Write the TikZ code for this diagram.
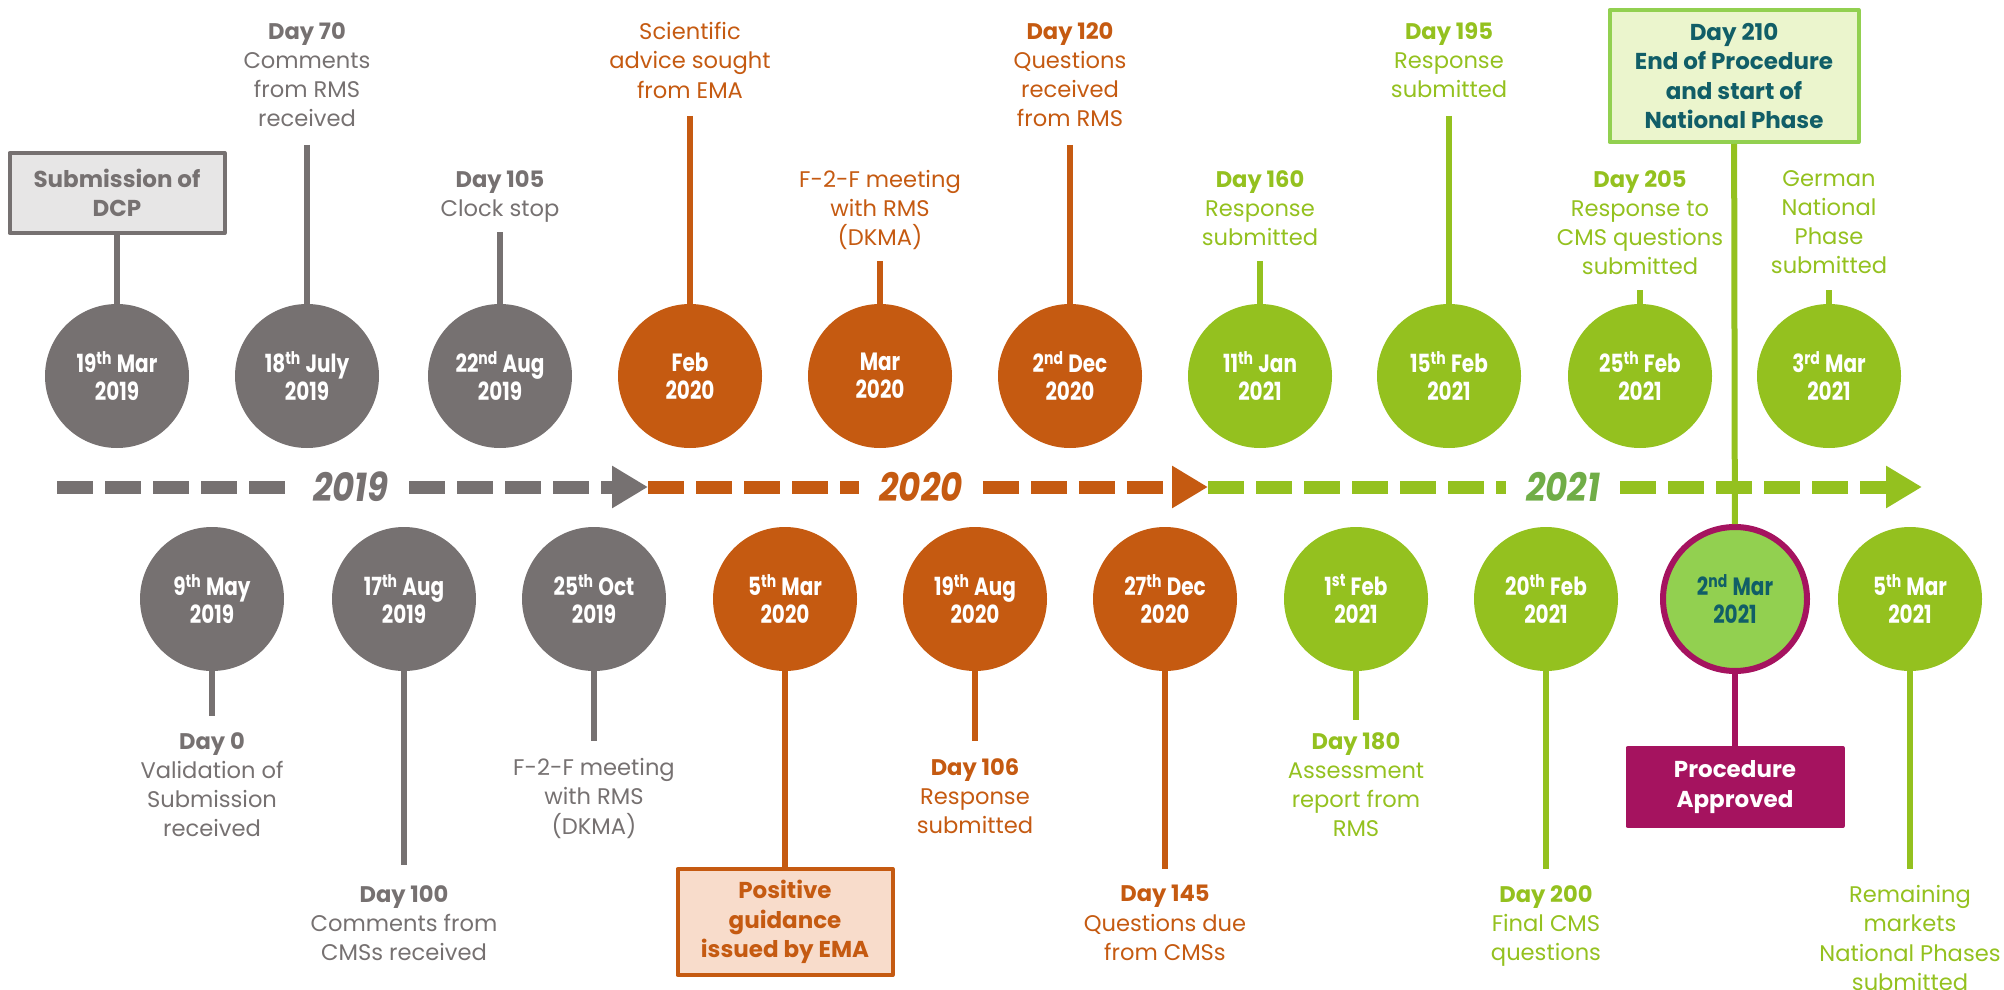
\documentclass[tikz,border=0pt]{standalone}
\usepackage{fontspec}
\setmainfont{Poppins}
\newfontfamily\datefont[FakeStretch=0.8]{Poppins}
\newfontfamily\yearfont[FakeStretch=0.85]{Poppins}
\usetikzlibrary{arrows.meta}
\definecolor{tlgray}{HTML}{767171}
\definecolor{tlorange}{HTML}{C55A11}
\definecolor{tlgreen}{HTML}{94C11F}
\definecolor{tlyear}{HTML}{70AD47}
\definecolor{tllime}{HTML}{92D050}
\definecolor{tlpink}{HTML}{A5135F}
\definecolor{tlteal}{HTML}{115E67}
\definecolor{tlpeach}{HTML}{F8DCCB}
\definecolor{tlpale}{HTML}{EBF5CD}
\definecolor{tlbox}{HTML}{E7E6E6}
\begin{document}
\begin{tikzpicture}[x=0.5pt,y=-0.5pt,line join=round,
  circ/.style={circle,fill=#1,minimum size=72pt,inner sep=0pt,text=white,align=center,
    font=\datefont\bfseries\fontsize{12.5}{14}\selectfont},
  lbl/.style={text=#1,align=center,inner sep=0pt,anchor=north,font=\fontsize{11.3}{14.6}\selectfont},
  stem/.style={draw=#1,line width=3pt},
  axis/.style={draw=#1,line width=6.5pt,dash pattern=on 18pt off 6pt},
  year/.style={text=#1,inner sep=10pt,font=\yearfont\bfseries\itshape\fontsize{20}{24}\selectfont},
  tip/.style={-{Triangle[length=18pt,width=20pt]}},
  card/.style={draw=#1,line width=2pt,align=center,inner sep=0pt,font=\bfseries\fontsize{11.5}{14.6}\selectfont}]
    \useasboundingbox (0,0) rectangle (2004,990);

    \coordinate (g0) at (57,487);
    \coordinate (g1) at (648,487);
    \coordinate (o1) at (1208,487);
    \coordinate (n1) at (1922,487);
    \node[year=tlgray] (y19) at (351,487) {2019};
    \node[year=tlorange] (y20) at (921,487) {2020};
    \node[year=tlyear] (y21) at (1563,487) {2021};
    \draw[axis=tlgray] (g0) -- (y19);
    \draw[axis=tlgray,tip] (y19) -- (g1);
    \draw[axis=tlorange] (g1) -- (y20);
    \draw[axis=tlorange,tip] (y20) -- (o1);
    \draw[axis=tlgreen] (o1) -- (y21);
    \draw[axis=tlgreen,tip] (y21) -- (n1);

    \node[circ=tlgray] (c1) at (117,376) {19\textsuperscript{th} Mar\\2019};
    \node[circ=tlgray] (c2) at (307,376) {18\textsuperscript{th} July\\2019};
    \node[circ=tlgray] (c3) at (500,376) {22\textsuperscript{nd} Aug\\2019};
    \node[circ=tlorange] (c4) at (690,376) {Feb\\2020};
    \node[circ=tlorange] (c5) at (880,376) {Mar\\2020};
    \node[circ=tlorange] (c6) at (1070,376) {2\textsuperscript{nd} Dec\\2020};
    \node[circ=tlgreen] (c7) at (1260,376) {11\textsuperscript{th} Jan\\2021};
    \node[circ=tlgreen] (c8) at (1449,376) {15\textsuperscript{th} Feb\\2021};
    \node[circ=tlgreen] (c9) at (1640,376) {25\textsuperscript{th} Feb\\2021};
    \node[circ=tlgreen] (c10) at (1829,376) {3\textsuperscript{rd} Mar\\2021};

    \node[circ=tlgray] (d1) at (212,599) {9\textsuperscript{th} May\\2019};
    \node[circ=tlgray] (d2) at (404,599) {17\textsuperscript{th} Aug\\2019};
    \node[circ=tlgray] (d3) at (594,599) {25\textsuperscript{th} Oct\\2019};
    \node[circ=tlorange] (d4) at (785,599) {5\textsuperscript{th} Mar\\2020};
    \node[circ=tlorange] (d5) at (975,599) {19\textsuperscript{th} Aug\\2020};
    \node[circ=tlorange] (d6) at (1165,599) {27\textsuperscript{th} Dec\\2020};
    \node[circ=tlgreen] (d7) at (1356,599) {1\textsuperscript{st} Feb\\2021};
    \node[circ=tlgreen] (d8) at (1546,599) {20\textsuperscript{th} Feb\\2021};
    \node[circ=tllime,draw=tlpink,line width=3pt,text=tlteal] (d9) at (1735,599) {2\textsuperscript{nd} Mar\\2021};
    \node[circ=tlgreen] (d10) at (1910,599) {5\textsuperscript{th} Mar\\2021};

    \node[card=tlgray,fill=tlbox,text=tlgray,minimum width=107.5pt,minimum height=40pt] (dcp) at (117,193) {Submission of\\DCP};
    \node[card=tlorange,fill=tlpeach,text=tlorange,minimum width=107.5pt,minimum height=53pt] (ema) at (785,922) {Positive\\guidance\\issued by EMA};
    \node[card=tlpink,fill=tlpink,text=white,minimum width=107.5pt,minimum height=39pt] (appr) at (1735,787) {Procedure\\Approved};
    \node[card=tllime,fill=tlpale,text=tlteal,minimum width=124.5pt,minimum height=66pt] (end) at (1734,76) {Day 210\\End of Procedure\\and start of\\National Phase};

    \node[lbl=tlgray] (l2) at (307,22) {\textbf{Day 70}\\Comments\\from RMS\\received};
    \node[lbl=tlgray] (l3) at (500,170) {\textbf{Day 105}\\Clock stop};
    \node[lbl=tlorange] (l4) at (690,22) {Scientific\\advice sought\\from EMA};
    \node[lbl=tlorange] (l5) at (880,170) {F-2-F meeting\\with RMS\\(DKMA)};
    \node[lbl=tlorange] (l6) at (1070,22) {\textbf{Day 120}\\Questions\\received\\from RMS};
    \node[lbl=tlgreen] (l7) at (1260,170) {\textbf{Day 160}\\Response\\submitted};
    \node[lbl=tlgreen] (l8) at (1449,22) {\textbf{Day 195}\\Response\\submitted};
    \node[lbl=tlgreen] (l9) at (1640,170) {\textbf{Day 205}\\Response to\\CMS questions\\submitted};
    \node[lbl=tlgreen] (l10) at (1829,170) {German\\National\\Phase\\submitted};

    \node[lbl=tlgray] (m1) at (212,732) {\textbf{Day 0}\\Validation of\\Submission\\received};
    \node[lbl=tlgray] (m2) at (404,885) {\textbf{Day 100}\\Comments from\\CMSs received};
    \node[lbl=tlgray] (m3) at (594,758) {F-2-F meeting\\with RMS\\(DKMA)};
    \node[lbl=tlorange] (m5) at (975,758) {\textbf{Day 106}\\Response\\submitted};
    \node[lbl=tlorange] (m6) at (1165,885) {\textbf{Day 145}\\Questions due\\from CMSs};
    \node[lbl=tlgreen] (m7) at (1356,732) {\textbf{Day 180}\\Assessment\\report from\\RMS};
    \node[lbl=tlgreen] (m8) at (1546,885) {\textbf{Day 200}\\Final CMS\\questions};
    \node[lbl=tlgreen] (m10) at (1910,885) {Remaining\\markets\\National Phases\\submitted};

    \coordinate (t2) at (307,145);
    \coordinate (t3) at (500,232);
    \coordinate (t4) at (690,116);
    \coordinate (t5) at (880,261);
    \coordinate (t6) at (1070,145);
    \coordinate (t7) at (1260,261);
    \coordinate (t8) at (1449,116);
    \coordinate (t9) at (1640,290);
    \coordinate (t10) at (1829,290);
    \coordinate (b1) at (212,716);
    \coordinate (b2) at (404,865);
    \coordinate (b3) at (594,741);
    \coordinate (b5) at (975,741);
    \coordinate (b6) at (1165,869);
    \coordinate (b7) at (1356,720);
    \coordinate (b8) at (1546,869);
    \coordinate (b10) at (1910,869);

    \draw[stem=tlgray] (dcp) -- (c1);
    \draw[stem=tlgray] (t2) -- (c2);
    \draw[stem=tlgray] (t3) -- (c3);
    \draw[stem=tlorange] (t4) -- (c4);
    \draw[stem=tlorange] (t5) -- (c5);
    \draw[stem=tlorange] (t6) -- (c6);
    \draw[stem=tlgreen] (t7) -- (c7);
    \draw[stem=tlgreen] (t8) -- (c8);
    \draw[stem=tlgreen] (t9) -- (c9);
    \draw[stem=tlgreen] (t10) -- (c10);
    \draw[stem=tlgreen] (end) -- (d9);
    \draw[stem=tlgray] (d1) -- (b1);
    \draw[stem=tlgray] (d2) -- (b2);
    \draw[stem=tlgray] (d3) -- (b3);
    \draw[stem=tlorange] (d4) -- (ema);
    \draw[stem=tlorange] (d5) -- (b5);
    \draw[stem=tlorange] (d6) -- (b6);
    \draw[stem=tlgreen] (d7) -- (b7);
    \draw[stem=tlgreen] (d8) -- (b8);
    \draw[stem=tlpink] (d9) -- (appr);
    \draw[stem=tlgreen] (d10) -- (b10);
  \end{tikzpicture}
\end{document}
